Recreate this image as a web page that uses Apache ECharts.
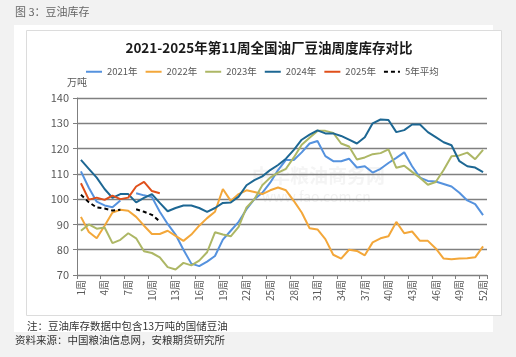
<!DOCTYPE html>
<html>
<head>
<meta charset="utf-8">
<script src="https://cdn.jsdelivr.net/npm/echarts@6/dist/echarts.min.js"></script>
<style>
html,body{margin:0;padding:0;background:#f2f2f2;}
#chart{width:516px;height:357px;}
</style>
</head>
<body>
<div id="chart"></div>
<script>
const weeks = [];
for (let i = 1; i <= 52; i++) weeks.push(i + '周');

const seriesNames = ['2021年', '2022年', '2023年', '2024年', '2025年', '5年平均'];

const y2021 = [111, 104.5, 99, 97.5, 96.8, 99.5, null, 102.3, 101.5, 100.8, 95, 90.2, 86, 80, 74.5, 73.5, 75.3, 77.5, 84, 87.5,
  91, 96, 100, 102.5, 106.5, 111.5, 115.5, 115.5, 118.5, 122, 123, 117, 115, 115, 116, 112.5, 113, 110.5, 112, 114.3,
  116.3, 118.5, 113, 108.5, 107.2, 107, 106, 105, 102.5, 99.5, 98, 93.7];
const y2022 = [93, 87, 84.5, 89.5, 94.7, 95.8, 95.4, 93, 89.5, 86.2, 86.2, 87.5, 85.5, 83.5, 86, 89.5, 92.5, 95, 104, 99.3,
  102, 103.5, 102.8, 102, 103.5, 104.6, 103.5, 99.3, 94.7, 88.5, 88, 84.2, 78, 76.5, 80, 79.5, 77.8, 82.9, 84.5, 85.3,
  91, 86.5, 87.2, 83.5, 83.5, 80.5, 76.5, 76.2, 76.5, 76.6, 77, 81.3];
const y2023 = [87.5, 90, 88.3, 88.8, 82.6, 83.9, 86.5, 84.5, 79.4, 78.7, 77, 73.1, 72.2, 74.8, 73.8, 75.7, 79, 86.9, 86, 85.3,
  89, 96.7, 100, 105.5, 108.5, 110.5, 112, 116.5, 121.5, 124.3, 127, 127, 126.2, 122, 120.8, 115.7, 116.5, 117.8, 118.2, 119.7,
  112.4, 113.2, 110.8, 108.5, 105.7, 106.8, 111.5, 117, 117.3, 118.4, 115.8, 119.5];
const y2024 = [115.5, 112, 108.5, 104, 100.5, 102, 102, 98.7, 100.5, 102, 98.5, 95.2, 96.5, 97.5, 97.5, 96.5, 95, 96.5, 98.5, 98.7,
  101, 105.5, 107.5, 109, 111.5, 113.5, 116, 119.5, 123.5, 125.5, 127.2, 126, 126, 125, 123.5, 122, 124.5, 130, 131.5, 131.3,
  126.5, 127.3, 129.5, 129.5, 126.5, 124.5, 122.5, 121.3, 115, 113, 112.5, 110.7];
const y2025 = [106.3, 99.8, 100.6, 99.7, 101.4, 100, 100.6, 105, 106.8, 103.2, 102.3];
const yAvg = [101.7, 98.8, 96.7, 96.3, 95.5, 95.8, null, 96, 95, 93.8, 91.2];

const yTicks = { min: 70, max: 140, interval: 10 };

const colors = ['#5592de', '#f3a73a', '#adb765', '#1d6793', '#e04f1a', '#000000'];
const allData = [y2021, y2022, y2023, y2024, y2025, yAvg];

const chart = echarts.init(document.getElementById('chart'), null, { renderer: 'canvas' });

const font = '"Noto Sans CJK SC", "Microsoft YaHei", sans-serif';

const series = seriesNames.map((name, i) => ({
  name: name,
  type: 'line',
  data: allData[i],
  symbol: 'none',
  connectNulls: false,
  z: i === 4 ? 5 : 3,
  lineStyle: {
    color: colors[i],
    width: 2,
    type: i === 5 ? [4, 3] : 'solid'
  },
  itemStyle: { color: colors[i] }
}));

chart.setOption({
  backgroundColor: '#f2f2f2',
  animation: false,
  textStyle: { fontFamily: font },
  title: {
    text: '2021-2025年第11周全国油厂豆油周度库存对比',
    left: 264,
    textAlign: 'center',
    top: 36,
    textStyle: { fontSize: 13.5, fontWeight: 'bold', color: '#1a1a1a', fontFamily: font }
  },
  legend: {
    data: seriesNames,
    left: 80,
    top: 62,
    itemWidth: 16,
    itemHeight: 10,
    itemGap: 7,
    itemStyle: { opacity: 0, borderWidth: 0 },
    textStyle: { fontSize: 9.5, color: '#595959', fontFamily: font }
  },
  graphic: [
    { type: 'rect', z: -10, silent: true, shape: { x: 14, y: 25, width: 479, height: 307 }, style: { fill: '#ffffff' } },
    { type: 'rect', z: -9, silent: true, shape: { x: 26.5, y: 30.5, width: 475, height: 285 }, style: { fill: '#ffffff', stroke: '#dcdcdc', lineWidth: 1 } },
    { type: 'text', z: 1, silent: true, left: 15, top: 6, style: { text: '图 3：豆油库存', fontSize: 11, fill: '#666666', fontFamily: font } },
    { type: 'text', z: 1, silent: true, left: 27, top: 321, style: { text: '注：豆油库存数据中包含13万吨的国储豆油', fontSize: 10.5, fill: '#333333', fontFamily: font } },
    { type: 'text', z: 1, silent: true, left: 15, top: 335, style: { text: '资料来源：中国粮油信息网，安粮期货研究所', fontSize: 10.5, fill: '#333333', fontFamily: font } },
    { type: 'text', z: 0, silent: true, left: 252, top: 166, style: { text: '中华粮油商务网', fontSize: 19, fontWeight: 'bold', fill: 'rgba(210,210,210,0.25)', fontFamily: font } },
    { type: 'text', z: 0, silent: true, left: 262, top: 190, style: { text: 'www.fao.com.cn', fontSize: 14, fill: 'rgba(210,210,210,0.3)', fontFamily: font } }
  ],
  grid: { left: 77, right: 29, top: 98, bottom: 82, containLabel: false },
  xAxis: {
    type: 'category',
    data: weeks,
    boundaryGap: true,
    axisLine: { lineStyle: { color: '#7f7f7f', width: 1 } },
    axisTick: { show: true, interval: 2, length: 4, lineStyle: { color: '#7f7f7f' } },
    axisLabel: { interval: 2, rotate: 90, fontSize: 10, color: '#595959', margin: 5, fontFamily: font },
    splitLine: { show: false }
  },
  yAxis: {
    type: 'value',
    min: yTicks.min,
    max: yTicks.max,
    interval: yTicks.interval,
    name: '万吨',
    nameLocation: 'end',
    nameGap: 11,
    nameTextStyle: { fontSize: 10, color: '#595959', fontFamily: font },
    axisLine: { show: true, lineStyle: { color: '#7f7f7f', width: 1 } },
    axisTick: { show: true, length: 4, lineStyle: { color: '#7f7f7f' } },
    axisLabel: { fontSize: 11, color: '#595959', margin: 8, fontFamily: font },
    splitLine: { show: true, lineStyle: { color: '#808080', width: 1.3 } }
  },
  series: series
});
</script>
</body>
</html>
